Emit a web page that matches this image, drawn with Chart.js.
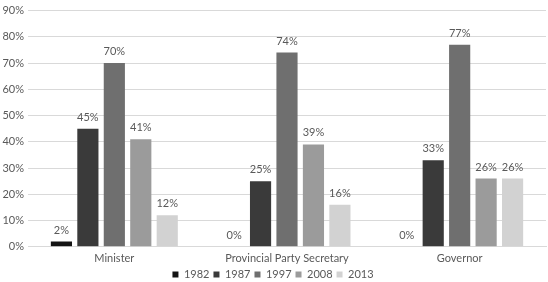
<!DOCTYPE html>
<html><head><meta charset="utf-8">
<script src="https://cdn.jsdelivr.net/npm/chart.js@4"></script>
<style>html,body{margin:0;padding:0;background:#fff}#w{width:548px;height:282px}</style>
</head><body><div id="w"><canvas id="c"></canvas></div>
<script>
const categories = ["Minister", "Provincial Party Secretary", "Governor"];
const years = ["1982", "1987", "1997", "2008", "2013"];
const v1982 = [2, 0, 0];
const v1987 = [45, 25, 33];
const v1997 = [70, 74, 77];
const v2008 = [41, 39, 26];
const v2013 = [12, 16, 26];
const yTicks = [0, 10, 20, 30, 40, 50, 60, 70, 80, 90];
const colors = ["#141414", "#3a3a3a", "#6f6f6f", "#9b9b9b", "#d2d2d2"];
const series = [v1982, v1987, v1997, v2008, v2013];
const FONT = "Lato, 'Open Sans', sans-serif";

const labelPlugin = {
  id: 'barLabels',
  afterLayout(chart) {
    if (chart.legend) { chart.legend.top -= 5; chart.legend.bottom -= 5; }
  },
  afterDatasetsDraw(chart) {
    const ctx = chart.ctx;
    ctx.save();
    ctx.font = "11px " + FONT;
    ctx.fillStyle = "#595959";
    ctx.textAlign = "center";
    ctx.textBaseline = "bottom";
    chart.data.datasets.forEach((ds, i) => {
      chart.getDatasetMeta(i).data.forEach((bar, j) => {
        ctx.fillText(ds.data[j] + "%", bar.x, bar.y - 6);
      });
    });
    ctx.restore();
  }
};

new Chart(document.getElementById('c'), {
  type: 'bar',
  data: {
    labels: categories,
    datasets: years.map((y, i) => ({
      label: y,
      data: series[i],
      backgroundColor: colors[i],
      borderColor: colors[i],
      borderWidth: 0,
      categoryPercentage: 0.766,
      barPercentage: 0.8
    }))
  },
  options: {
    responsive: true,
    maintainAspectRatio: false,
    animation: false,
    layout: { padding: { top: -4, right: 2, left: 0, bottom: -13 } },
    scales: {
      x: {
        grid: { display: false, drawTicks: false },
        border: { display: true, color: "#d9d9d9" },
        ticks: { color: "#595959", font: { family: FONT, size: 11 }, padding: 5 }
      },
      y: {
        min: 0, max: 90,
        afterBuildTicks(scale) { scale.ticks = yTicks.map(v => ({ value: v })); },
        afterFit(scale) { scale.width = 28; },
        grid: { color: "#d9d9d9", drawTicks: false },
        border: { display: false },
        ticks: { color: "#595959", font: { family: FONT, size: 11 }, padding: 4, callback: v => v + "%" }
      }
    },
    plugins: {
      legend: {
        position: 'bottom',
        labels: { boxWidth: 6, boxHeight: 6, color: "#595959", font: { family: FONT, size: 11 }, padding: 4 }
      },
      tooltip: { enabled: false }
    }
  },
  plugins: [labelPlugin]
});
</script></body></html>
